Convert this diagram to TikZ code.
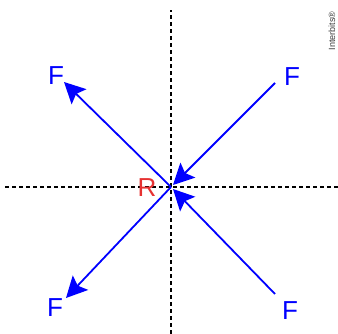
\documentclass[tikz,border=0pt]{standalone}
\usepackage{fontspec}
\setmainfont{Liberation Sans}
\usepackage{xcolor}
\usetikzlibrary{arrows.meta,positioning,calc}
\definecolor{vecblue}{RGB}{0,0,255}
\definecolor{resred}{RGB}{230,50,50}
\definecolor{markgray}{RGB}{60,60,60}

\begin{document}
\begin{tikzpicture}[x=1pt,y=1pt,
    axis/.style={black,line width=1.1pt,dash pattern=on 4pt off 3pt},
    vec/.style={vecblue,line width=1.8pt,-{Stealth[length=21pt,width=21pt,inset=4pt]}},
    flabel/.style={vecblue,font=\fontsize{26}{26}\selectfont}]
    \useasboundingbox (0,0) rectangle (338,334);

    % Ejes punteados.
    \coordinate (o) at (171,147);
    \coordinate (ytop) at (171,324);
    \coordinate (ybot) at (171,0);
    \coordinate (xl) at (5,147);
    \coordinate (xr) at (338,147);
    \draw[axis] (ybot)--(ytop);
    \draw[axis] (xl)--(xr);

    % Fuerzas.
    \coordinate (tl) at (64,252);
    \coordinate (bl) at (66,36);
    \coordinate (tr) at (275,251);
    \coordinate (br) at (275,40);
    \coordinate (otr) at (173,149);
    \coordinate (obr) at (173,145);
    \draw[vec] (o)--(tl);
    \draw[vec] (o)--(bl);
    \draw[vec] (tr)--(otr);
    \draw[vec] (br)--(obr);

    % Rótulos.
    \node[flabel] (ftl) at (56,258) {F};
    \node[flabel] (ftr) at (292,257) {F};
    \node[flabel] (fbl) at (55,26) {F};
    \node[flabel] (fbr) at (290,23) {F};
    \node[resred,font=\fontsize{26}{26}\selectfont] (r) at (147,146) {R};
    \node[markgray,font=\fontsize{9}{9}\selectfont,rotate=90] (mark) at (332,303) {Interbits®};
\end{tikzpicture}
\end{document}
